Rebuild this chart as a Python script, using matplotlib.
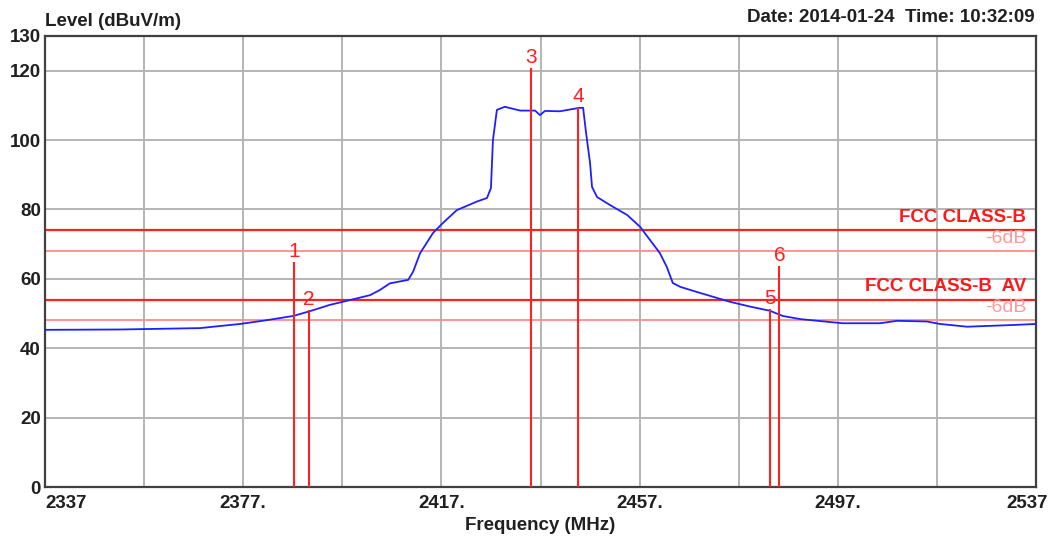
import matplotlib.pyplot as plt
import matplotlib.transforms as mtransforms

plt.rcParams['font.family'] = ['Liberation Sans', 'DejaVu Sans']

# measured trace (frequency in MHz, level in dBuV/m)
freq = [2337.0, 2352.1, 2368.3, 2372.3, 2376.4, 2381.8, 2387.1, 2390.5, 2394.5,
        2398.6, 2402.6, 2404.6, 2406.6, 2410.3, 2411.3, 2412.7, 2415.3, 2417.3,
        2420.1, 2424.2, 2426.2, 2427.0, 2427.4, 2428.2, 2429.8, 2432.9, 2435.9,
        2436.9, 2437.9, 2440.9, 2444.9, 2445.6, 2446.2, 2447.0, 2447.4, 2448.4,
        2451.0, 2454.5, 2457.1, 2459.1, 2461.1, 2462.5, 2463.7, 2465.2, 2468.6,
        2475.2, 2479.3, 2483.3, 2485.9, 2489.4, 2494.4, 2498.0, 2505.5, 2509.0,
        2515.0, 2517.6, 2523.1, 2532.4, 2537.0]
level = [45.3, 45.4, 45.8, 46.4, 47.0, 48.1, 49.3, 50.7, 52.5,
         53.9, 55.3, 56.8, 58.7, 59.7, 62.1, 67.4, 73.2, 76.1,
         79.8, 82.3, 83.3, 86.2, 100.0, 108.7, 109.6, 108.5, 108.5,
         107.2, 108.4, 108.3, 109.3, 109.3, 102.0, 93.4, 86.5, 83.6,
         81.3, 78.4, 75.0, 71.2, 67.4, 63.4, 58.8, 57.7, 56.2,
         53.4, 52.0, 50.8, 49.3, 48.4, 47.7, 47.2, 47.2, 47.9,
         47.7, 47.0, 46.2, 46.7, 47.0]

# markers: frequency, top level, label
marker_freq = [2387.2, 2390.3, 2435.0, 2444.6, 2483.4, 2485.2]
marker_top = [64.5, 50.8, 120.5, 109.2, 51.0, 63.5]
marker_label = ["1", "2", "3", "4", "5", "6"]

# limit lines
limits = [74, 68, 54, 48]
limit_names = ["FCC CLASS-B", "-6dB", "FCC CLASS-B  AV", "-6dB"]

xticks = [2337, 2377, 2417, 2457, 2497, 2537]
xtick_labels = ["2337", "2377.", "2417.", "2457.", "2497.", "2537"]
yticks = [0, 20, 40, 60, 80, 100, 120, 130]

fig = plt.figure(figsize=(10.59, 5.42), dpi=100)
ax = fig.add_axes([45 / 1059, 55 / 542, 991 / 1059, 451 / 542])
ax.set_xlim(2337, 2537)
ax.set_ylim(0, 130)

# grid
for gx in range(2357, 2537, 20):
    ax.axvline(gx, color='#b4b4b4', lw=1.4, zorder=1)
for gy in range(20, 130, 20):
    ax.axhline(gy, color='#b4b4b4', lw=1.4, zorder=1)

# limit lines + labels
for i, (lv, name) in enumerate(zip(limits, limit_names)):
    main = i % 2 == 0
    ax.axhline(lv, color='#ff2020' if main else '#ff8c8c', lw=1.6 if main else 1.3, zorder=2)
    ax.text(2535, lv + 1.3, name, ha='right', va='bottom', zorder=5,
            color='#ff1a1a' if main else '#ff9a9a',
            fontsize=13.5 if main else 14, fontweight='bold' if main else 'normal')

ax.plot(freq, level, color='#1f1fff', lw=1.3, zorder=3)

for mf, mt, ml in zip(marker_freq, marker_top, marker_label):
    ax.plot([mf, mf], [0, mt], color='#ff2020', lw=1.5, zorder=4)
    ax.text(mf, mt + 1.7, ml, color='#ff2020', fontsize=15, ha='center', va='baseline', zorder=5)

ax.set_xticks(xticks)
ax.set_xticklabels(xtick_labels, fontsize=13.5, fontweight='bold', color='#202020')
ax.set_yticks(yticks)
ax.set_yticklabels([str(v) for v in yticks], fontsize=13.5, fontweight='bold', color='#202020')
ax.tick_params(length=0, pad=3)
ax.tick_params(axis='x', pad=6)
labels = ax.get_xticklabels()
labels[0].set_horizontalalignment('left')
labels[-1].set_transform(labels[-1].get_transform() +
                         mtransforms.ScaledTranslation(-0.09, 0, fig.dpi_scale_trans))

for sp in ax.spines.values():
    sp.set_color('#404040')
    sp.set_linewidth(1.6)

ax.set_xlabel("Frequency (MHz)", fontsize=13.5, fontweight='bold', color='#202020', labelpad=3)
fig.text(45 / 1059, 1 - 22 / 542, "Level (dBuV/m)", fontsize=13.5, fontweight='bold',
         color='#202020', ha='left', va='center')
fig.text(1035 / 1059, 1 - 17 / 542, "Date: 2014-01-24  Time: 10:32:09", fontsize=13.5,
         fontweight='bold', color='#202020', ha='right', va='center')

fig.savefig("out.png", dpi=100)
